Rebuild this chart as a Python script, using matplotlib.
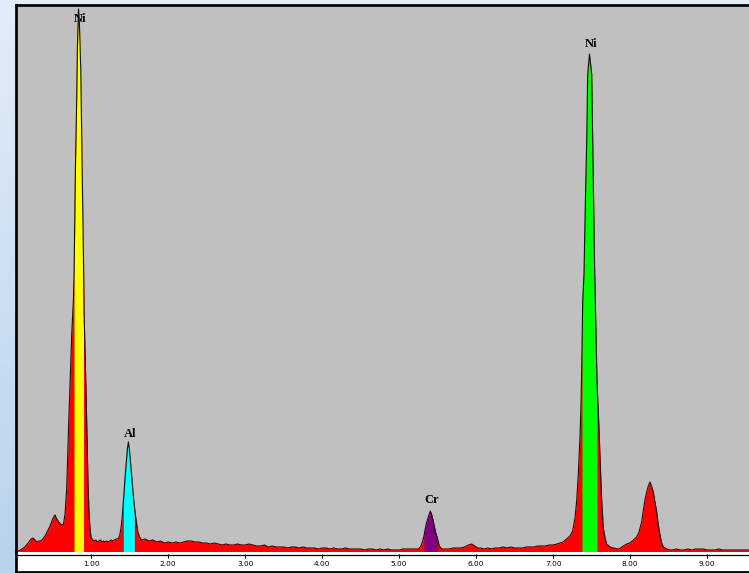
import numpy as np
import matplotlib
matplotlib.use('Agg')
import matplotlib.pyplot as plt
from matplotlib.colors import LinearSegmentedColormap

# EDS spectrum (energy in keV, counts)
energy = np.array([
    0.03, 0.05, 0.08, 0.10, 0.12, 0.14, 0.16, 0.18, 0.20, 0.22, 0.24, 0.26, 0.28, 0.30,
    0.32, 0.34, 0.36, 0.38, 0.40, 0.42, 0.44, 0.46, 0.48, 0.50, 0.52, 0.53, 0.545, 0.56,
    0.58, 0.60, 0.62, 0.64, 0.66,
    0.682, 0.703, 0.725, 0.747, 0.768, 0.777, 0.786, 0.794, 0.812, 0.820, 0.835, 0.846,
    0.864, 0.877, 0.890, 0.900, 0.907, 0.920, 0.933, 0.946, 0.958, 0.971, 0.984, 0.997,
    1.02, 1.04, 1.06, 1.08, 1.10, 1.12, 1.14, 1.16, 1.18, 1.20, 1.22, 1.24, 1.26, 1.28,
    1.30, 1.322,
    1.348, 1.368, 1.387, 1.406, 1.417, 1.432, 1.445, 1.458, 1.471, 1.483, 1.495, 1.508,
    1.521, 1.536, 1.549, 1.560, 1.575, 1.591, 1.608, 1.634,
    1.66, 1.70, 1.75, 1.80, 1.85, 1.90, 1.95, 2.00, 2.05, 2.10, 2.15, 2.20, 2.25, 2.30,
    2.35, 2.40, 2.45, 2.50, 2.55, 2.60, 2.65, 2.70, 2.75, 2.80, 2.85, 2.90, 2.95, 3.00,
    3.05, 3.10, 3.15, 3.20, 3.25, 3.30, 3.35, 3.40, 3.45, 3.50, 3.55, 3.60, 3.65, 3.70,
    3.75, 3.80, 3.85, 3.90, 3.95, 4.00, 4.05, 4.10, 4.15, 4.20, 4.25, 4.30, 4.35, 4.40,
    4.45, 4.50, 4.55, 4.60, 4.65, 4.70, 4.75, 4.80, 4.85, 4.90, 4.95, 5.00, 5.05, 5.10,
    5.15, 5.20, 5.25,
    5.283, 5.304, 5.322, 5.335, 5.354, 5.374, 5.391, 5.404, 5.419, 5.439, 5.455, 5.471,
    5.495, 5.521, 5.552, 5.595,
    5.65, 5.70, 5.75, 5.80, 5.85, 5.90, 5.94, 5.98, 6.02, 6.06, 6.10, 6.15, 6.20, 6.25,
    6.30, 6.35, 6.40, 6.45, 6.50, 6.55, 6.60, 6.65, 6.70, 6.75, 6.80, 6.85, 6.90, 6.95,
    7.00, 7.05,
    7.088, 7.127, 7.175, 7.218, 7.253, 7.283, 7.305, 7.326, 7.348, 7.362, 7.374, 7.383,
    7.400, 7.416, 7.435, 7.448, 7.471, 7.500, 7.513, 7.526, 7.539, 7.547, 7.560, 7.569,
    7.580, 7.594, 7.608, 7.630, 7.651, 7.673, 7.695, 7.738, 7.781, 7.848,
    7.874, 7.910, 7.955, 7.997, 8.040, 8.084, 8.114, 8.149, 8.171, 8.192, 8.214, 8.235,
    8.257, 8.277, 8.300, 8.322, 8.344, 8.365, 8.387, 8.409, 8.430, 8.474, 8.519,
    8.55, 8.60, 8.65, 8.70, 8.75, 8.80, 8.85, 8.90, 8.95, 9.00, 9.05, 9.10, 9.15, 9.20,
    9.25, 9.30, 9.35, 9.40, 9.45, 9.50, 9.55,
])
counts = np.array([
    0, 10, 20, 30, 40, 50, 70, 90, 110, 130, 140, 130, 110, 100,
    110, 110, 120, 140, 160, 190, 220, 250, 290, 330, 360, 370, 340, 320,
    300, 280, 270, 280, 380,
    640, 1180, 1680, 2180, 2510, 2760, 3290, 3790, 4560, 5030, 5430, 5300,
    4830, 4130, 3490, 2900, 2400, 2000, 1600, 1150, 700, 400, 240, 150,
    120, 110, 120, 100, 110, 120, 100, 110, 100, 110, 100, 110, 120, 110,
    120, 130,
    130, 160, 240, 380, 500, 660, 800, 920, 1040, 1100, 1030, 920,
    800, 660, 540, 460, 360, 280, 190, 140,
    120, 130, 110, 120, 100, 110, 90, 100, 90, 100, 90, 100, 110, 110,
    100, 100, 90, 90, 80, 90, 80, 70, 80, 70, 70, 80, 70, 70,
    80, 70, 60, 60, 70, 50, 60, 50, 50, 50, 40, 50, 50, 40,
    50, 40, 40, 40, 30, 40, 40, 30, 40, 30, 30, 40, 30, 30,
    30, 30, 20, 30, 30, 20, 30, 20, 30, 20, 20, 20, 30, 30,
    30, 30, 30,
    60, 110, 160, 220, 290, 340, 380, 410, 380, 320, 260, 200,
    140, 60, 30, 30,
    30, 40, 40, 40, 50, 70, 80, 60, 40, 40, 30, 40, 30, 40,
    40, 50, 40, 50, 40, 40, 40, 50, 50, 50, 60, 60, 60, 70,
    70, 80,
    90, 100, 130, 160, 210, 340, 510, 780, 1150, 1500, 2000, 2510,
    2780, 3440, 4110, 4780, 4980, 4780, 4110, 3440, 2780, 2510, 2000, 1700,
    1500, 1250, 950, 510, 240, 140, 80, 50, 40, 30,
    40, 60, 80, 90, 120, 150, 200, 300, 420, 520, 600, 660,
    700, 660, 600, 500, 400, 270, 170, 90, 50, 30, 20,
    20, 30, 20, 20, 30, 20, 30, 30, 30, 20, 20, 20, 30, 20,
    20, 20, 20, 20, 20, 20, 20,
])

# regions of interest (coloured bands) and their element labels
roi_lo = [0.777, 1.417, 5.322, 7.374]
roi_hi = [0.900, 1.560, 5.495, 7.569]
roi_colors = ['#ffff00', '#00ffff', '#800080', '#00ff00']

label_text = ['Ni', 'Al', 'Cr', 'Ni']
label_x = [0.861, 1.510, 5.426, 7.497]
label_y = [5330, 1180, 520, 5080]

tick_values = [1, 2, 3, 4, 5, 6, 7, 8, 9]
tick_labels = ['1.00', '2.00', '3.00', '4.00', '5.00', '6.00', '7.00', '8.00', '9.00']

W, H = 749, 573
fig = plt.figure(figsize=(W / 100, H / 100), dpi=100)

# light blue gradient behind everything
bg = fig.add_axes([0, 0, 1, 1], zorder=-5)
grad = LinearSegmentedColormap.from_list('bg', ['#e2edf8', '#b8d2ed'])
bg.imshow(np.linspace(0, 1, 256)[:, None], cmap=grad, aspect='auto', extent=[0, 1, 0, 1])
bg.axis('off')

xmin, xmax = 0.027, 9.543
border = 1.95

# spectrum panel
left = 16.3 / W
ax = fig.add_axes([left, 21 / H, 1 - left, (H - 5.3 - 21) / H])
ax.set_facecolor('#c0c0c0')
ax.set_xlim(xmin, xmax)
ax.set_ylim(0, 5467)
for s in ['right', 'bottom']:
    ax.spines[s].set_visible(False)
for s in ['left', 'top']:
    ax.spines[s].set_linewidth(border)
    ax.spines[s].set_color('black')
ax.set_xticks([])
ax.set_yticks([])

for t, x, y in zip(label_text, label_x, label_y):
    ax.text(x, y, t, ha='center', va='center', fontsize=9, fontweight='bold',
            family='Liberation Serif', color='black', zorder=1)

ax.fill_between(energy, counts, 0, color='#ff0000', lw=0, zorder=2)
for lo, hi, c in zip(roi_lo, roi_hi, roi_colors):
    m = (energy >= lo - 1e-9) & (energy <= hi + 1e-9)
    ax.fill_between(energy[m], counts[m], 0, color=c, lw=0, zorder=2.5)
ax.plot(energy, counts, color='#111111', lw=0.8, zorder=3)

# white energy scale strip
ax2 = fig.add_axes([left, 1 / H, 1 - left, 20 / H])
ax2.set_facecolor('white')
ax2.set_xlim(xmin, xmax)
ax2.set_ylim(0, 1)
for s in ['right', 'top']:
    ax2.spines[s].set_visible(False)
for s in ['left', 'bottom']:
    ax2.spines[s].set_linewidth(border)
    ax2.spines[s].set_color('black')
ax2.set_xticks([])
ax2.set_yticks([])
ax2.axhline(0.875, color='black', lw=0.9)
ax2.vlines(tick_values, 0.72, 0.9, color='black', lw=0.8)
for v, lab in zip(tick_values, tick_labels):
    ax2.text(v, 0.42, lab, ha='center', va='center', fontsize=5.3, color='black')

plt.savefig('out.png', dpi=100)
